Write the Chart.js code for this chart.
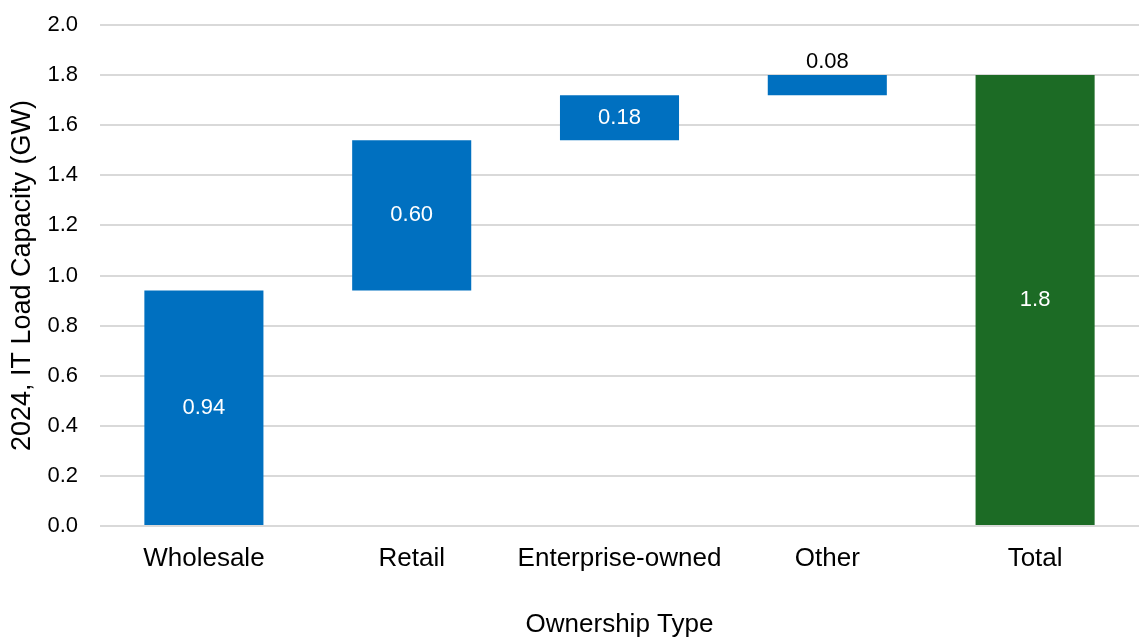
<!DOCTYPE html>
<html>
<head>
<meta charset="utf-8">
<script src="https://cdn.jsdelivr.net/npm/chart.js@4/dist/chart.umd.min.js"></script>
<style>
  html, body { margin: 0; padding: 0; background: #fff; }
  #wrap { width: 1139px; height: 639px; }
</style>
</head>
<body>
<div id="wrap"><canvas id="waterfall"></canvas></div>
<script>
var categories = ['Wholesale', 'Retail', 'Enterprise-owned', 'Other', 'Total'];
var values = [0.94, 0.60, 0.18, 0.08, 1.8];
var isTotal = [false, false, false, false, true];
var valueLabels = ['0.94', '0.60', '0.18', '0.08', '1.8'];

var blue = '#0070C0';
var green = '#1C6B25';
var fontFamily = '"Liberation Sans", Arial, sans-serif';

// running sum -> floating [start, end] pairs
var ranges = [];
var running = 0;
for (var i = 0; i < values.length; i++) {
  if (isTotal[i]) {
    ranges.push([0, values[i]]);
  } else {
    ranges.push([running, running + values[i]]);
    running += values[i];
  }
}

var barLabels = {
  id: 'barLabels',
  afterDatasetsDraw: function (chart) {
    var ctx = chart.ctx;
    var meta = chart.getDatasetMeta(0);
    ctx.save();
    ctx.font = '22px ' + fontFamily;
    ctx.textAlign = 'center';
    ctx.textBaseline = 'middle';
    meta.data.forEach(function (bar, i) {
      var top = Math.min(bar.y, bar.base);
      var h = Math.abs(bar.base - bar.y);
      if (h < 30) {
        ctx.fillStyle = '#000';
        ctx.fillText(valueLabels[i], bar.x, top - 13);
      } else {
        ctx.fillStyle = '#fff';
        ctx.fillText(valueLabels[i], bar.x, top + h / 2);
      }
    });
    ctx.restore();
  }
};

new Chart(document.getElementById('waterfall'), {
  type: 'bar',
  data: {
    labels: categories,
    datasets: [{
      data: ranges,
      backgroundColor: isTotal.map(function (t) { return t ? green : blue; }),
      borderWidth: 0,
      categoryPercentage: 1,
      barPercentage: 0.573
    }]
  },
  options: {
    responsive: true,
    maintainAspectRatio: false,
    animation: false,
    layout: { padding: { top: 0, right: 0, left: 6, bottom: 0 } },
    plugins: {
      legend: { display: false },
      tooltip: { enabled: false }
    },
    scales: {
      x: {
        grid: { display: false },
        border: { display: false },
        afterFit: function (scale) { scale.height = 113; },
        ticks: {
          color: '#000',
          padding: 9,
          maxRotation: 0,
          minRotation: 0,
          autoSkip: false,
          font: { family: fontFamily, size: 26 }
        },
        title: {
          display: true,
          text: 'Ownership Type',
          color: '#000',
          padding: { top: 36, bottom: 0 },
          font: { family: fontFamily, size: 26, lineHeight: 1.1 }
        }
      },
      y: {
        min: 0,
        max: 2.0,
        afterFit: function (scale) {
          scale.width = 94;
          scale.paddingTop = 25;
        },
        ticks: {
          stepSize: 0.2,
          color: '#000',
          padding: 22,
          font: { family: fontFamily, size: 22 },
          callback: function (v) { return v.toFixed(1); }
        },
        grid: { color: '#D9D9D9', lineWidth: 2, drawTicks: false },
        border: { display: false },
        title: {
          display: true,
          text: '2024, IT Load Capacity (GW)',
          color: '#000',
          padding: { top: 0, bottom: 9 },
          font: { family: fontFamily, size: 27 }
        }
      }
    }
  },
  plugins: [barLabels]
});
</script>
</body>
</html>
